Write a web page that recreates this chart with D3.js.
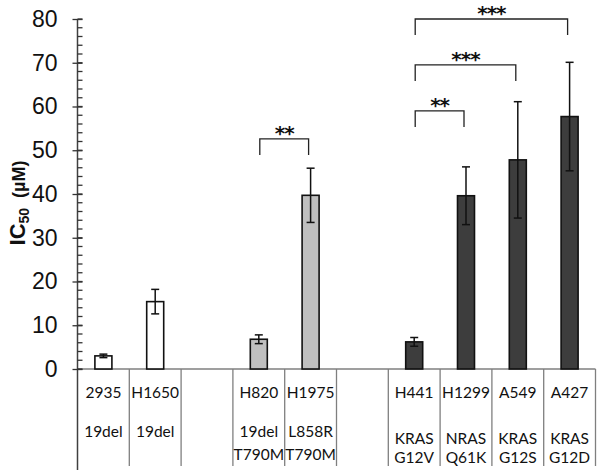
<!DOCTYPE html>
<html><head><meta charset="utf-8">
<script src="https://cdn.jsdelivr.net/npm/d3@7"></script>
<style>body{margin:0;background:#fff}svg{display:block}</style>
</head><body>
<svg id="c" width="602" height="472"></svg>
<script>
const slots = ["2935","H1650","gap1","H820","H1975","gap2","H441","H1299","A549","A427"];
const cellLines = ["2935","H1650","H820","H1975","H441","H1299","A549","A427"];
const ic50 = [3.0, 15.4, 6.8, 39.7, 6.2, 39.6, 47.8, 57.7];
const errs = [0.4, 2.8, 1.0, 6.2, 1.0, 6.6, 13.3, 12.4];
const groups = ["white","white","grey","grey","dark","dark","dark","dark"];
const mutation1 = ["19del","19del","19del","L858R","KRAS","NRAS","KRAS","KRAS"];
const mutation2 = ["","","T790M","T790M","G12V","Q61K","G12S","G12D"];
const yTicks = [0,10,20,30,40,50,60,70,80];
const minorTicks = d3.range(0,81,2);
const sigPairs = [["H820","H1975","**",52.6],["H441","H1299","**",59],["H441","A549","***",69.5],["H441","A427","***",80]];

const fills = {white:"#ffffff", grey:"#bfbfbf", dark:"#3d3d3d"};
const svg = d3.select("#c");
const x = d3.scaleBand().domain(slots).range([77.5,595.5]).padding(0);
const y = d3.scaleLinear().domain([0,80]).range([369,19]);

// category separators
const sepX = slots.map(s=>x(s)).concat([x.range()[1]]);
svg.selectAll("line.sep").data(sepX.slice(1)).join("line")
  .attr("x1",d=>d).attr("x2",d=>d).attr("y1",y(0)).attr("y2",466)
  .attr("stroke","#7f7f7f").attr("stroke-width",1.3);
// baseline
svg.append("line").attr("x1",x.range()[0]).attr("x2",x.range()[1]).attr("y1",y(0)).attr("y2",y(0))
  .attr("stroke","#7f7f7f").attr("stroke-width",1.3);
// y axis line
svg.append("line").attr("x1",77.5).attr("x2",77.5).attr("y1",y(80)).attr("y2",470)
  .attr("stroke","#404040").attr("stroke-width",1.5);
// minor ticks
svg.selectAll("line.mt").data(minorTicks).join("line")
  .attr("x1",77.5).attr("x2",82.5).attr("y1",d=>y(d)).attr("y2",d=>y(d))
  .attr("stroke","#333").attr("stroke-width",1.3);
// major ticks + labels via d3 axis
const ax = svg.append("g").attr("transform","translate(77.5,0)")
  .call(d3.axisLeft(y).tickValues(yTicks).tickSize(5).tickPadding(15));
ax.select(".domain").remove();
ax.selectAll(".tick line").attr("x2",-5).attr("x1",5).attr("stroke","#333").attr("stroke-width",1.3);
ax.selectAll(".tick text").attr("font-family","Liberation Sans, Arial, sans-serif").attr("font-size",23).attr("fill","#111");

// bars
const bw = 17;
const data = cellLines.map((c,i)=>({c,v:ic50[i],e:errs[i],g:groups[i],m1:mutation1[i],m2:mutation2[i]}));
svg.selectAll("rect.bar").data(data).join("rect")
  .attr("x",d=>x(d.c)+x.bandwidth()/2-bw/2).attr("width",bw)
  .attr("y",d=>y(d.v)).attr("height",d=>y(0)-y(d.v))
  .attr("fill",d=>fills[d.g]).attr("stroke","#111").attr("stroke-width",1.6);
// error bars
const eg = svg.selectAll("g.err").data(data).join("g").attr("stroke","#111").attr("stroke-width",1.5);
eg.append("line").attr("x1",d=>x(d.c)+x.bandwidth()/2).attr("x2",d=>x(d.c)+x.bandwidth()/2)
  .attr("y1",d=>y(d.v+d.e)).attr("y2",d=>y(d.v-d.e));
eg.append("line").attr("x1",d=>x(d.c)+x.bandwidth()/2-4).attr("x2",d=>x(d.c)+x.bandwidth()/2+4)
  .attr("y1",d=>y(d.v+d.e)).attr("y2",d=>y(d.v+d.e));
eg.append("line").attr("x1",d=>x(d.c)+x.bandwidth()/2-4).attr("x2",d=>x(d.c)+x.bandwidth()/2+4)
  .attr("y1",d=>y(d.v-d.e)).attr("y2",d=>y(d.v-d.e));

// significance brackets
sigPairs.forEach(([a,b,s,top])=>{
  const x1 = x(a)+x.bandwidth()/2+1, x2 = x(b)+x.bandwidth()/2-2;
  const yt = y(top), yb = yt+16;
  svg.append("path").attr("d",`M${x1},${yb}V${yt}H${x2}V${yb}`)
    .attr("fill","none").attr("stroke","#222").attr("stroke-width",1.3);
  svg.append("text").attr("x",(x1+x2)/2).attr("y",yt+1).attr("text-anchor","middle")
    .attr("font-family","DejaVu Sans, sans-serif").attr("font-weight","bold").attr("font-size",20)
    .attr("letter-spacing","-1").attr("fill","#111").text(s);
});

// category labels
const lf = "Lato, 'Open Sans', sans-serif";
const lab = svg.append("g").attr("font-family",lf).attr("font-size",15.5).attr("fill","#111").attr("text-anchor","middle");
data.forEach(d=>{
  const cx = x(d.c)+x.bandwidth()/2;
  const kras = d.g==="dark";
  lab.append("text").attr("x",cx).attr("y",398).text(d.c);
  lab.append("text").attr("x",cx).attr("y",kras?443.5:437).text(d.m1);
  if(d.m2) lab.append("text").attr("x",cx).attr("y",kras?462.5:460).text(d.m2);
});

// y title
const yt = svg.append("text").attr("transform","translate(25,203) rotate(-90)")
  .attr("text-anchor","middle").attr("font-family","Liberation Sans, Arial, sans-serif")
  .attr("font-weight","bold").attr("font-size",22).attr("fill","#111");
yt.append("tspan").text("IC");
yt.append("tspan").attr("font-size",14).attr("dy",4).text("50");
yt.append("tspan").attr("dy",-4).attr("font-size",18).text("\u00a0\u00a0(\u00b5M)");
</script>
</body></html>
